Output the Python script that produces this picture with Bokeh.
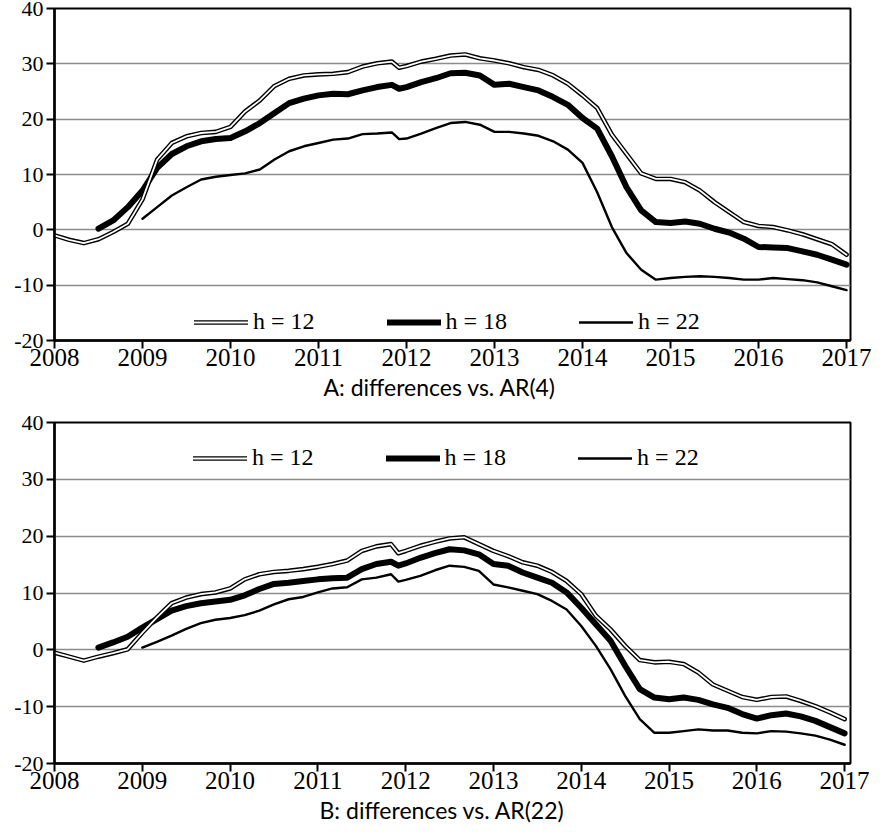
import numpy as np
from bokeh.plotting import figure
from bokeh.models import (FixedTicker, Legend, LegendItem, Range1d, Title,
                          CustomJSTickFormatter)
from bokeh.layouts import column
from bokeh.embed import file_html
from bokeh.resources import INLINE

# months since Jan 2008 at which values were read
months = list(range(0, 47, 2)) + [47] + list(range(48, 109, 2))
years = [2008 + m / 12 for m in months]

year_ticks = [2008, 2009, 2010, 2011, 2012, 2013, 2014, 2015, 2016, 2017]
value_ticks = [-20, -10, 0, 10, 20, 30, 40]
labels = ["h = 12", "h = 18", "h = 22"]

# Panel A: differences vs. AR(4)
a_h12 = [-1.0, -1.8, -2.4, -1.7, -0.4, 1.1, 5.5, 12.7, 15.7, 16.9, 17.5, 17.7,
         18.6, 21.4, 23.4, 26.0, 27.3, 27.9, 28.1, 28.2, 28.5, 29.5, 30.1, 30.4,
         29.3,
         29.6, 30.4, 30.9, 31.5, 31.7, 31.0, 30.6, 30.1, 29.4, 28.9, 27.9, 26.4,
         24.3, 22.0, 17.2, 13.7, 10.2, 9.2, 9.2, 8.6, 7.1, 5.0, 3.2, 1.4,
         0.7, 0.5, -0.1, -0.8, -1.7, -2.6, -4.5]
a_h18 = [0.2, 1.7, 4.1, 7.1, 11.2, 13.7, 15.1, 16.0, 16.4, 16.6, 17.8, 19.3,
         21.1, 22.9, 23.7, 24.3, 24.6, 24.5, 25.2, 25.8, 26.2,
         25.5,
         25.8, 26.7, 27.4, 28.3, 28.4, 27.9, 26.2, 26.4, 25.8, 25.2, 24.0, 22.6,
         20.2, 18.3, 13.3, 7.7, 3.5, 1.4, 1.25, 1.5, 1.1, 0.2, -0.5, -1.6,
         -3.1, -3.2, -3.3, -3.9, -4.5, -5.4, -6.3]
a_h22 = [2.0, 4.1, 6.2, 7.7, 9.1, 9.6, 9.9, 10.2, 10.9, 12.7, 14.2, 15.1,
         15.7, 16.3, 16.5, 17.3, 17.4, 17.6,
         16.4,
         16.5, 17.4, 18.4, 19.3, 19.5, 19.0, 17.7, 17.7, 17.4, 17.0, 16.0, 14.5,
         12.1, 6.8, 0.5, -4.2, -7.2, -9.0, -8.7, -8.5, -8.4, -8.5, -8.7, -9.0,
         -9.0, -8.7, -8.9, -9.1, -9.5, -10.2, -10.9]

# Panel B: differences vs. AR(22)
b_h12 = [-0.5, -1.2, -1.9, -1.2, -0.6, 0.1, 3.0, 5.7, 8.2, 9.2, 9.8, 10.1,
         10.8, 12.4, 13.3, 13.7, 13.9, 14.2, 14.6, 15.1, 15.7, 17.4, 18.2, 18.6,
         17.0,
         17.4, 18.3, 19.0, 19.6, 19.8, 18.6, 17.4, 16.5, 15.4, 14.8, 13.7, 12.1,
         9.8, 6.0, 3.6, 0.7, -1.8, -2.2, -2.1, -2.5, -4.0, -6.1, -7.2, -8.3,
         -8.8, -8.3, -8.2, -9.0, -9.9, -11.0, -12.2]
b_h18 = [0.4, 1.3, 2.3, 3.9, 5.4, 6.9, 7.7, 8.2, 8.5, 8.8, 9.6, 10.7,
         11.6, 11.8, 12.1, 12.4, 12.6, 12.7, 14.2, 15.1, 15.5,
         14.8,
         15.2, 16.2, 17.0, 17.7, 17.5, 16.8, 15.1, 14.8, 13.6, 12.7, 11.8, 10.1,
         7.4, 4.5, 1.6, -2.8, -6.9, -8.4, -8.7, -8.4, -8.8, -9.6, -10.2, -11.3,
         -12.1, -11.5, -11.2, -11.7, -12.5, -13.6, -14.7]
b_h22 = [0.4, 1.4, 2.5, 3.7, 4.7, 5.3, 5.6, 6.1, 6.9, 8.0, 8.9, 9.3,
         10.1, 10.8, 11.0, 12.4, 12.7, 13.3,
         12.0,
         12.3, 13.0, 14.0, 14.8, 14.6, 13.9, 11.5, 11.0, 10.4, 9.8, 8.6, 7.1,
         4.2, 0.7, -3.4, -8.1, -12.2, -14.6, -14.6, -14.3, -14.0, -14.2, -14.2, -14.6,
         -14.7, -14.3, -14.4, -14.7, -15.1, -15.8, -16.7]

SERIF = "Liberation Serif"
SANS = "Lato"


def panel(title, h12, h18, h22, x_end, height, border, legend_loc, title_offset):
    bl, br, bt, bb = border
    p = figure(width=875, height=height, output_backend="svg", toolbar_location=None,
               x_range=Range1d(2008, x_end), y_range=Range1d(-20, 40),
               min_border_left=bl, min_border_right=br,
               min_border_top=bt, min_border_bottom=bb)
    p.outline_line_color = "black"
    p.outline_line_width = 2
    p.xgrid.grid_line_color = None
    p.ygrid.grid_line_color = "#8c8c8c"
    p.ygrid.grid_line_width = 1.6
    p.xaxis.ticker = FixedTicker(ticks=year_ticks)
    p.yaxis.ticker = FixedTicker(ticks=value_ticks)
    for ax in (p.xaxis, p.yaxis):
        ax.axis_line_color = "black"
        ax.axis_line_width = 2.5
        ax.major_tick_line_color = "black"
        ax.major_tick_line_width = 2
        ax.major_tick_in = 0
        ax.major_tick_out = 8
        ax.minor_tick_line_color = None
        ax.major_label_text_font = SERIF
        ax.major_label_text_color = "black"
        ax.formatter = CustomJSTickFormatter(code="return String(tick);")
    p.xaxis.major_label_text_font_size = "25px"
    p.yaxis.major_label_text_font_size = "22px"
    p.xaxis.major_label_standoff = 0
    p.yaxis.major_label_standoff = 3

    n18 = len(months) - len(h18)
    n22 = len(months) - len(h22)
    r18 = p.line(years[n18:], h18, line_color="black", line_width=6,
                 line_join="round", line_cap="round")
    r22 = p.line(years[n22:], h22, line_color="black", line_width=2.4,
                 line_join="round", line_cap="round")
    r12o = p.line(years, h12, line_color="black", line_width=4.6,
                  line_join="round", line_cap="round")
    r12i = p.line(years, h12, line_color="white", line_width=1.8,
                  line_join="round", line_cap="round")

    legend = Legend(items=[LegendItem(label=labels[0], renderers=[r12o, r12i]),
                           LegendItem(label=labels[1], renderers=[r18]),
                           LegendItem(label=labels[2], renderers=[r22])],
                    orientation="horizontal", location=legend_loc,
                    label_text_font=SERIF, label_text_font_size="24px",
                    label_text_color="black",
                    glyph_width=54, glyph_height=20, label_standoff=5,
                    spacing=72, padding=0, margin=0,
                    border_line_alpha=0, background_fill_alpha=0)
    p.add_layout(legend)

    p.add_layout(Title(text=title, align="left", offset=title_offset,
                       text_font=SANS, text_font_size="23px",
                       text_font_style="normal", text_color="black",
                       standoff=5), "below")
    return p


pa = panel("A: differences vs. AR(4)", a_h12, a_h18, a_h22, 2017.045, 416,
           (53, 25, 16, 68), (140, 5), 269)
pb = panel("B: differences vs. AR(22)", b_h12, b_h18, b_h22, 2017.067, 421,
           (54, 15, 14, 66), (139, 292), 265)

layout = column(pa, pb, styles={"margin-top": "-8px", "margin-bottom": "-8px"})
open("out.html", "w").write(file_html(layout, INLINE))
